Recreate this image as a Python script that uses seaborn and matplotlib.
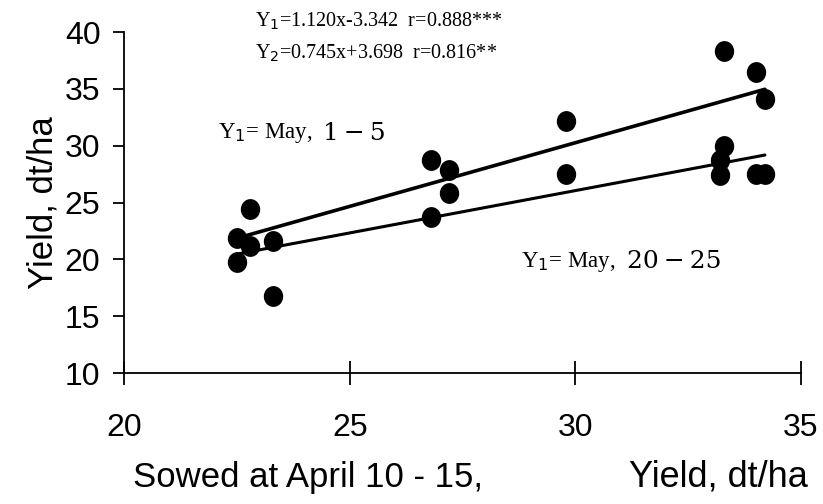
import numpy as np
import matplotlib
matplotlib.use("Agg")
import matplotlib.pyplot as plt
from matplotlib.path import Path
from matplotlib.transforms import Affine2D
import seaborn as sns
import pandas as pd

# points (sowing date groups are not told apart by colour)
x_vals = [22.5, 22.5, 22.8, 22.8, 23.3, 23.3, 26.8, 27.2, 27.2, 26.8,
          29.8, 29.8, 33.3, 34.0, 34.2, 33.3, 33.2, 33.2, 34.0, 34.2]
y_vals = [21.9, 19.8, 24.4, 21.2, 21.6, 16.8, 28.7, 27.9, 25.8, 23.7,
          32.2, 27.5, 38.3, 36.5, 34.1, 30.0, 28.7, 27.4, 27.5, 27.5]

# regression lines given on the chart
slopes = [1.120, 0.745]
intercepts = [-3.342, 3.698]
line_x = [22.5, 34.2]
eq_labels = ["Y$_1$=1.120x-3.342  r=0.888***", "Y$_2$=0.745x+3.698  r=0.816**"]

df = pd.DataFrame({"x": x_vals, "y": y_vals})

sns.set_style("white")
plt.rcParams['font.family'] = ['Liberation Sans', 'DejaVu Sans']
plt.rcParams['text.color'] = 'black'
plt.rcParams['axes.labelcolor'] = 'black'
plt.rcParams['xtick.color'] = 'black'
plt.rcParams['ytick.color'] = 'black'

fig = plt.figure(figsize=(8.23, 5.04), dpi=100)
ax = fig.add_axes([0.1507, 0.2599, 0.8226, 0.6766])

# slightly tall dots like the original
dot = Path.unit_circle().transformed(Affine2D().scale(0.93, 1.0))
sns.scatterplot(data=df, x="x", y="y", ax=ax, color="black", s=225, marker=dot,
                edgecolor="black", linewidth=0, zorder=3, clip_on=False)

lws = [2.6, 2.2]
for k in range(2):
    lx = np.array(line_x)
    ax.plot(lx, slopes[k] * lx + intercepts[k], color="black", lw=lws[k], zorder=2)

ax.set_xlim(20, 35)
ax.set_ylim(10, 40)
ax.set_xticks([20, 25, 30, 35])
ax.set_yticks([10, 15, 20, 25, 30, 35, 40])
sns.despine(ax=ax)
for s in ["left", "bottom"]:
    ax.spines[s].set_color("black")
    ax.spines[s].set_linewidth(1.3)

ax.tick_params(axis="x", direction="inout", length=17, width=1.3, color="black",
               labelcolor="black", labelsize=23, pad=20, bottom=True)
ax.tick_params(axis="y", direction="out", length=8, width=1.3, color="black",
               labelcolor="black", labelsize=23, pad=9, left=True)
ax.set_xlabel("")
ax.set_ylabel("Yield, dt/ha", fontsize=25, labelpad=4, color="black")

serif = ['Liberation Serif', 'DejaVu Serif']
ax.text(22.9, 40.9, eq_labels[0], fontsize=14.5, family=serif, va="center", clip_on=False)
ax.text(22.9, 38.1, eq_labels[1], fontsize=14.5, family=serif, va="center", clip_on=False)

ax.text(22.08, 31.1, "Y$_1$= May,", fontsize=16.5, family=serif, va="center")
ax.text(24.4, 31.1, "1\u2009−\u20095", fontsize=18, family=['DejaVu Serif'], va="center")
ax.text(28.8, 19.8, "Y$_1$= May,", fontsize=16.5, family=serif, va="center")
ax.text(31.15, 19.8, "20\u2009−\u200925", fontsize=18, family=['DejaVu Serif'], va="center")

fig.text(133 / 823, 1 - 477 / 504, "Sowed at April 10 - 15,", fontsize=25, va="center", ha="left")
fig.text(808 / 823, 1 - 477 / 504, "Yield, dt/ha", fontsize=26, va="center", ha="right")

fig.savefig("out.png", dpi=100)
